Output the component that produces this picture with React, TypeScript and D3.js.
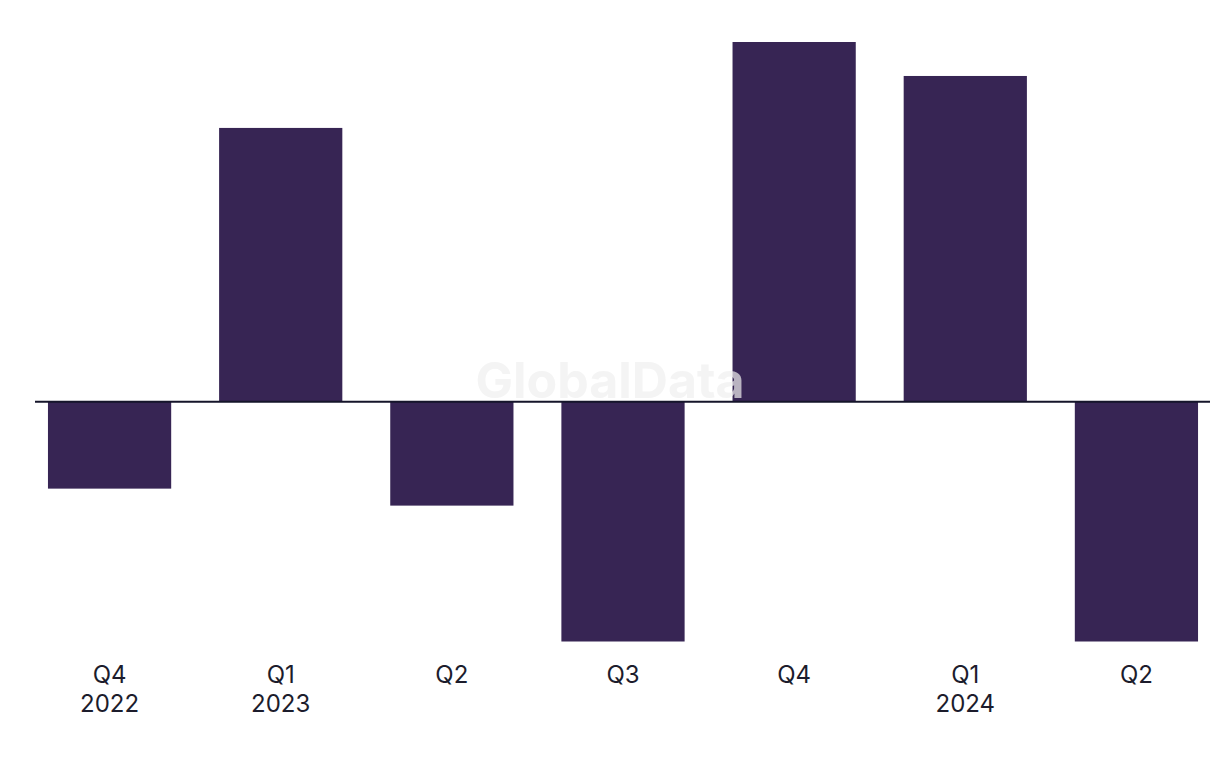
import React from "react";
import * as d3 from "d3";

const quarters = ["Q4", "Q1", "Q2", "Q3", "Q4", "Q1", "Q2"];
const years = ["2022", "2023", "", "", "", "2024", ""];
const values = [-0.87, 2.74, -1.04, -2.4, 3.6, 3.26, -2.4];

const W = 1220;
const H = 768;

export default function App() {
  const keys = quarters.map((_, i) => String(i));
  const x = d3
    .scaleBand<string>()
    .domain(keys)
    .range([24, 1222])
    .paddingInner(0.28)
    .paddingOuter(0.14);
  const y = d3.scaleLinear().domain([-2.4, 3.6]).range([641.5, 42]);
  const y0 = y(0);

  return (
    <svg
      width={W}
      height={H}
      style={{ position: "absolute", left: 0, top: 0, display: "block", background: "#fff" }}
    >
      {values.map((v, i) => (
        <rect
          key={i}
          x={x(keys[i])}
          width={x.bandwidth()}
          y={Math.min(y(v), y0)}
          height={Math.abs(y(v) - y0)}
          fill="#372554"
        />
      ))}
      <text
        x={610}
        y={398}
        textAnchor="middle"
        fontFamily="Inter, 'Noto Sans', sans-serif"
        fontWeight={700}
        fontSize={50}
        fill="#f0f0f0"
        opacity={0.7}
      >
        GlobalData
      </text>
      <line x1={35} x2={1210} y1={y0} y2={y0} stroke="#15152a" strokeWidth={2} />
      {quarters.map((q, i) => {
        const cx = (x(keys[i]) as number) + x.bandwidth() / 2;
        return (
          <g key={i} fontFamily="Inter, 'Noto Sans', sans-serif" fontSize={24} fill="#1c1c2c" textAnchor="middle">
            <text x={cx} y={682.5}>{q}</text>
            {years[i] && <text x={cx} y={712}>{years[i]}</text>}
          </g>
        );
      })}
    </svg>
  );
}
